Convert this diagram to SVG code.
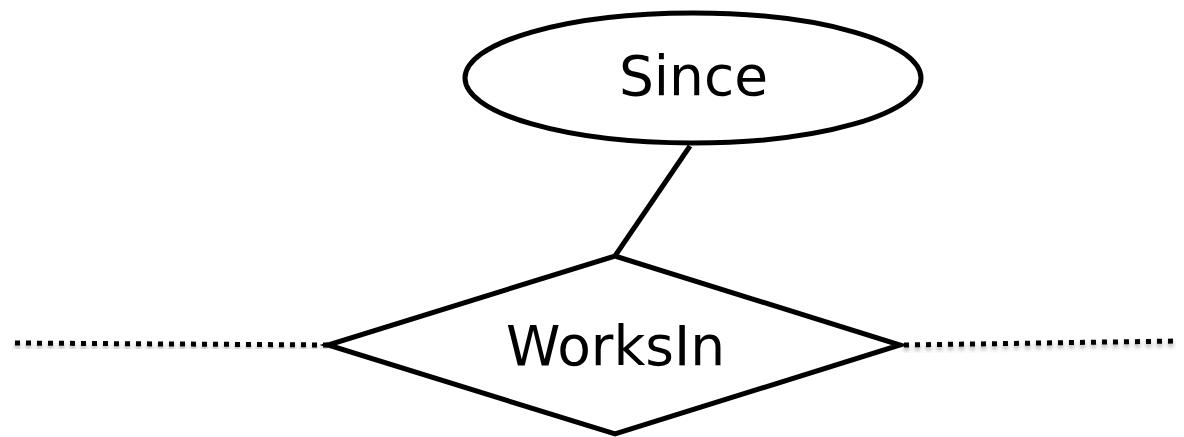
<svg xmlns="http://www.w3.org/2000/svg" width="1184" height="437" viewBox="0 0 1184 437">
<defs>
<style>
.shape{fill:#fff;stroke:#000;stroke-width:5;stroke-linejoin:miter}
.lbl{font-family:"DejaVu Sans",Verdana,sans-serif;font-size:55px;fill:#000;text-anchor:middle}
.conn{stroke:#000;stroke-width:5;fill:none}
.dot{stroke:#000;stroke-width:5;stroke-dasharray:5 6;fill:none}
</style>
<filter id="sh" x="-5%" y="-200%" width="110%" height="500%">
<feDropShadow dx="0" dy="3" stdDeviation="2" flood-color="#000" flood-opacity="0.35"/>
</filter>
</defs>
<g id="connectors">
<line class="conn" x1="690" y1="146" x2="615" y2="256"/>
<path class="dot" filter="url(#sh)" d="M15 343 L328 345"/>
<path class="dot" filter="url(#sh)" d="M904 345 L1178 341"/>
</g>
<g id="since">
<ellipse class="shape" cx="693" cy="78" rx="228" ry="65"/>
<text class="lbl" x="693.5" y="95">Since</text>
</g>
<g id="worksin">
<polygon class="shape" points="615,256 900,345 615,434 328,345"/>
<text class="lbl" x="615.5" y="365">WorksIn</text>
</g>
</svg>
